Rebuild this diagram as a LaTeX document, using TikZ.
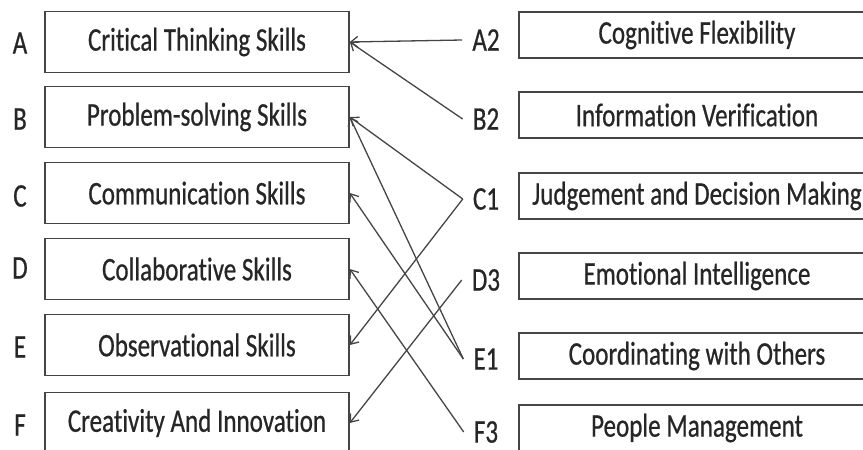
\documentclass[tikz,border=0pt]{standalone}
\usepackage{fontspec}
\setmainfont[FakeStretch=0.76, FakeBold=0.6, RawFeature={-liga;-calt;-clig}]{Carlito}
\usetikzlibrary{arrows.meta}
\definecolor{inkgray}{HTML}{262626}
\definecolor{linegray}{HTML}{454545}

\begin{document}
\begin{tikzpicture}[x=1pt,y=-1pt,
    skill/.style={draw=linegray, line width=1.6pt, minimum width=304pt, minimum height=61pt},
    trait/.style={draw=linegray, line width=1.6pt, minimum width=356pt, minimum height=46pt},
    tag/.style={inner xsep=10pt, inner ysep=0pt},
    link/.style={draw=linegray, line width=1.3pt, -{Straight Barb[length=7pt,width=11pt]}},
    every node/.style={text=inkgray, font=\fontsize{33}{33}\selectfont}]
          \useasboundingbox (0,0) rectangle (863,450);
          \clip (0,0) rectangle (863,450);

          % skills
          \node[tag] (A) at (20,43) {A};
          \node[tag] (B) at (20,119) {B};
          \node[tag] (C) at (20,196) {C};
          \node[tag] (D) at (20,268) {D};
          \node[tag] (E) at (20,347) {E};
          \node[tag] (F) at (20,425) {F};
          \node[skill] (ct) at (197,42) {Critical Thinking Skills};
          \node[skill] (ps) at (197,117) {Problem-solving Skills};
          \node[skill] (cs) at (197,193) {Communication Skills};
          \node[skill] (cl) at (197,269) {Collaborative Skills};
          \node[skill] (os) at (197,345) {Observational Skills};
          \node[skill] (ci) at (197,423) {Creativity And Innovation};

          % traits
          \node[tag] (A2) at (486,40) {A2};
          \node[tag] (B2) at (486,119) {B2};
          \node[tag] (C1) at (486,199) {C1};
          \node[tag] (D3) at (486,280) {D3};
          \node[tag] (E1) at (486,359) {E1};
          \node[tag] (F3) at (486,432) {F3};
          \node[trait] (cf) at (697,35) {Cognitive Flexibility};
          \node[trait] (iv) at (697,115) {Information Verification};
          \node[trait] (jd) at (697,196) {Judgement and Decision Making};
          \node[trait] (ei) at (697,276) {Emotional Intelligence};
          \node[trait] (co) at (697,356) {Coordinating with Others};
          \node[trait] (pm) at (697,428) {People Management};

          \path
          (A2.west) edge[link] (ct.east)
          (B2.west) edge[link] (ct.east)
          (C1.west) edge[link] (ps.east)
          (C1.west) edge[link] (os.east)
          (D3.west) edge[link] (ci.east)
          (E1.west) edge[link] (ps.east)
          (E1.west) edge[link] (cs.east)
          (F3.west) edge[link] (cl.east);
        \end{tikzpicture}
\end{document}
